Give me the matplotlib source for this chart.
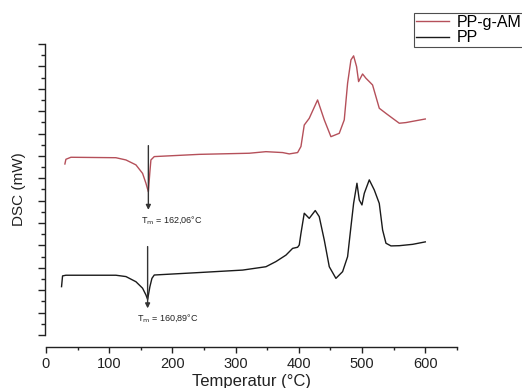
import matplotlib
matplotlib.use("Agg")
import matplotlib.pyplot as plt
from matplotlib.ticker import MultipleLocator, NullFormatter

plt.rcParams['font.family'] = ['Liberation Sans', 'DejaVu Sans']

# PP-g-AM (red)
t_ppgam = [30.0, 31.6, 39.5, 110.7, 126.6, 142.4, 152.9, 158.2, 162.06, 164.5, 166.1, 171.4,
           242.6, 321.7, 348.1, 374.5, 385.0, 398.2, 403.5, 408.7, 416.6, 429.8, 440.4, 450.9,
           464.1, 472.0, 477.3, 482.6, 486.8, 491.5, 494.7, 501.0, 506.3, 511.6, 516.8, 522.1,
           527.4, 538.0, 548.5, 559.1, 569.6, 600.2]
dsc_ppgam = [7.64, 7.85, 7.94, 7.92, 7.82, 7.60, 7.22, 6.78, 6.40, 7.30, 7.82, 7.97,
             8.07, 8.12, 8.19, 8.15, 8.09, 8.15, 8.42, 9.38, 9.68, 10.50, 9.61, 8.86,
             9.01, 9.61, 11.25, 12.29, 12.47, 11.99, 11.32, 11.66, 11.47, 11.32, 11.17, 10.65,
             10.13, 9.90, 9.68, 9.46, 9.49, 9.65]

# PP (black)
t_pp = [24.7, 26.3, 31.6, 110.7, 126.6, 142.4, 152.9, 158.2, 160.89, 164.5, 167.7, 171.4,
        242.6, 311.2, 348.1, 363.9, 379.8, 390.3, 398.2, 400.8, 403.5, 408.7, 416.6, 426.1,
        432.4, 440.4, 448.3, 458.8, 469.4, 477.3, 482.6, 486.8, 492.1, 495.8, 500.0, 503.7,
        511.6, 519.5, 527.4, 532.7, 538.0, 545.9, 559.1, 580.2, 600.2]
dsc_pp = [2.16, 2.64, 2.67, 2.67, 2.61, 2.38, 2.09, 1.79, 1.59, 2.16, 2.53, 2.68,
          2.79, 2.90, 3.05, 3.28, 3.57, 3.87, 3.92, 4.02, 4.54, 5.44, 5.21, 5.56,
          5.29, 4.24, 3.05, 2.53, 2.83, 3.50, 4.84, 5.88, 6.78, 6.03, 5.81, 6.33,
          6.93, 6.48, 5.88, 4.69, 4.10, 3.98, 3.99, 4.05, 4.16]

tm_values = [162.06, 160.89]
tm_labels = ['162,06', '160,89']
arrow_top = [8.46, 3.95]
arrow_bottom = [5.59, 1.19]
text_xy = [(150.0, 5.14), (143.5, 0.74)]

fig = plt.figure(figsize=(5.22, 3.88), dpi=100)
ax = fig.add_axes([0.088, 0.1366, 0.787, 0.75])

ax.plot(t_ppgam, dsc_ppgam, color='#b5505a', lw=1.0, label='PP-g-AM')
ax.plot(t_pp, dsc_pp, color='#1a1a1a', lw=1.0, label='PP')

for tm, lab, y0, y1, (tx, ty) in zip(tm_values, tm_labels, arrow_top, arrow_bottom, text_xy):
    ax.annotate('', xy=(tm, y1), xytext=(tm, y0),
                arrowprops=dict(arrowstyle='-|>', color='#333333', lw=1.0,
                                mutation_scale=7, shrinkA=0, shrinkB=0))
    ax.text(tx, ty, r'T$_{\rm m}$ = ' + lab + '°C', fontsize=6.5, color='#222222',
            va='center', ha='left')

ax.set_xlim(0, 650)
ax.set_ylim(0, 13)
ax.spines['top'].set_visible(False)
ax.spines['right'].set_visible(False)
ax.spines['bottom'].set_position(('outward', 9))
ax.spines['left'].set_position(('outward', 1))
for s in ('bottom', 'left'):
    ax.spines[s].set_color('#222222')
    ax.spines[s].set_linewidth(1.0)

ax.xaxis.set_major_locator(MultipleLocator(100))
ax.xaxis.set_minor_locator(MultipleLocator(50))
ax.yaxis.set_major_locator(MultipleLocator(1))
ax.yaxis.set_minor_locator(MultipleLocator(0.5))
ax.yaxis.set_major_formatter(NullFormatter())
ax.xaxis.set_major_formatter(plt.FuncFormatter(lambda v, p: '%d' % v if v <= 600 else ''))
ax.tick_params(axis='x', which='major', length=4, width=1, labelsize=10.5, colors='#222222', pad=3)
ax.tick_params(axis='x', which='minor', length=2.5, width=1, colors='#222222')
ax.tick_params(axis='y', which='major', length=5, width=1, colors='#222222')
ax.tick_params(axis='y', which='minor', length=3, width=1, colors='#222222')

ax.set_xlabel('Temperatur (°C)', fontsize=12, color='#222222', labelpad=2)
ax.set_ylabel('DSC (mW)', fontsize=11, color='#222222', labelpad=4.5)

leg = fig.legend(loc='upper left', bbox_to_anchor=(414 / 522, 1 - 13 / 388),
                 fontsize=11.5, frameon=True, fancybox=False, edgecolor='#222222',
                 handlelength=2.1, handletextpad=0.45, borderpad=0.1, labelspacing=0.05,
                 borderaxespad=0)
leg.get_frame().set_linewidth(0.8)

fig.savefig('out.png', dpi=100)
